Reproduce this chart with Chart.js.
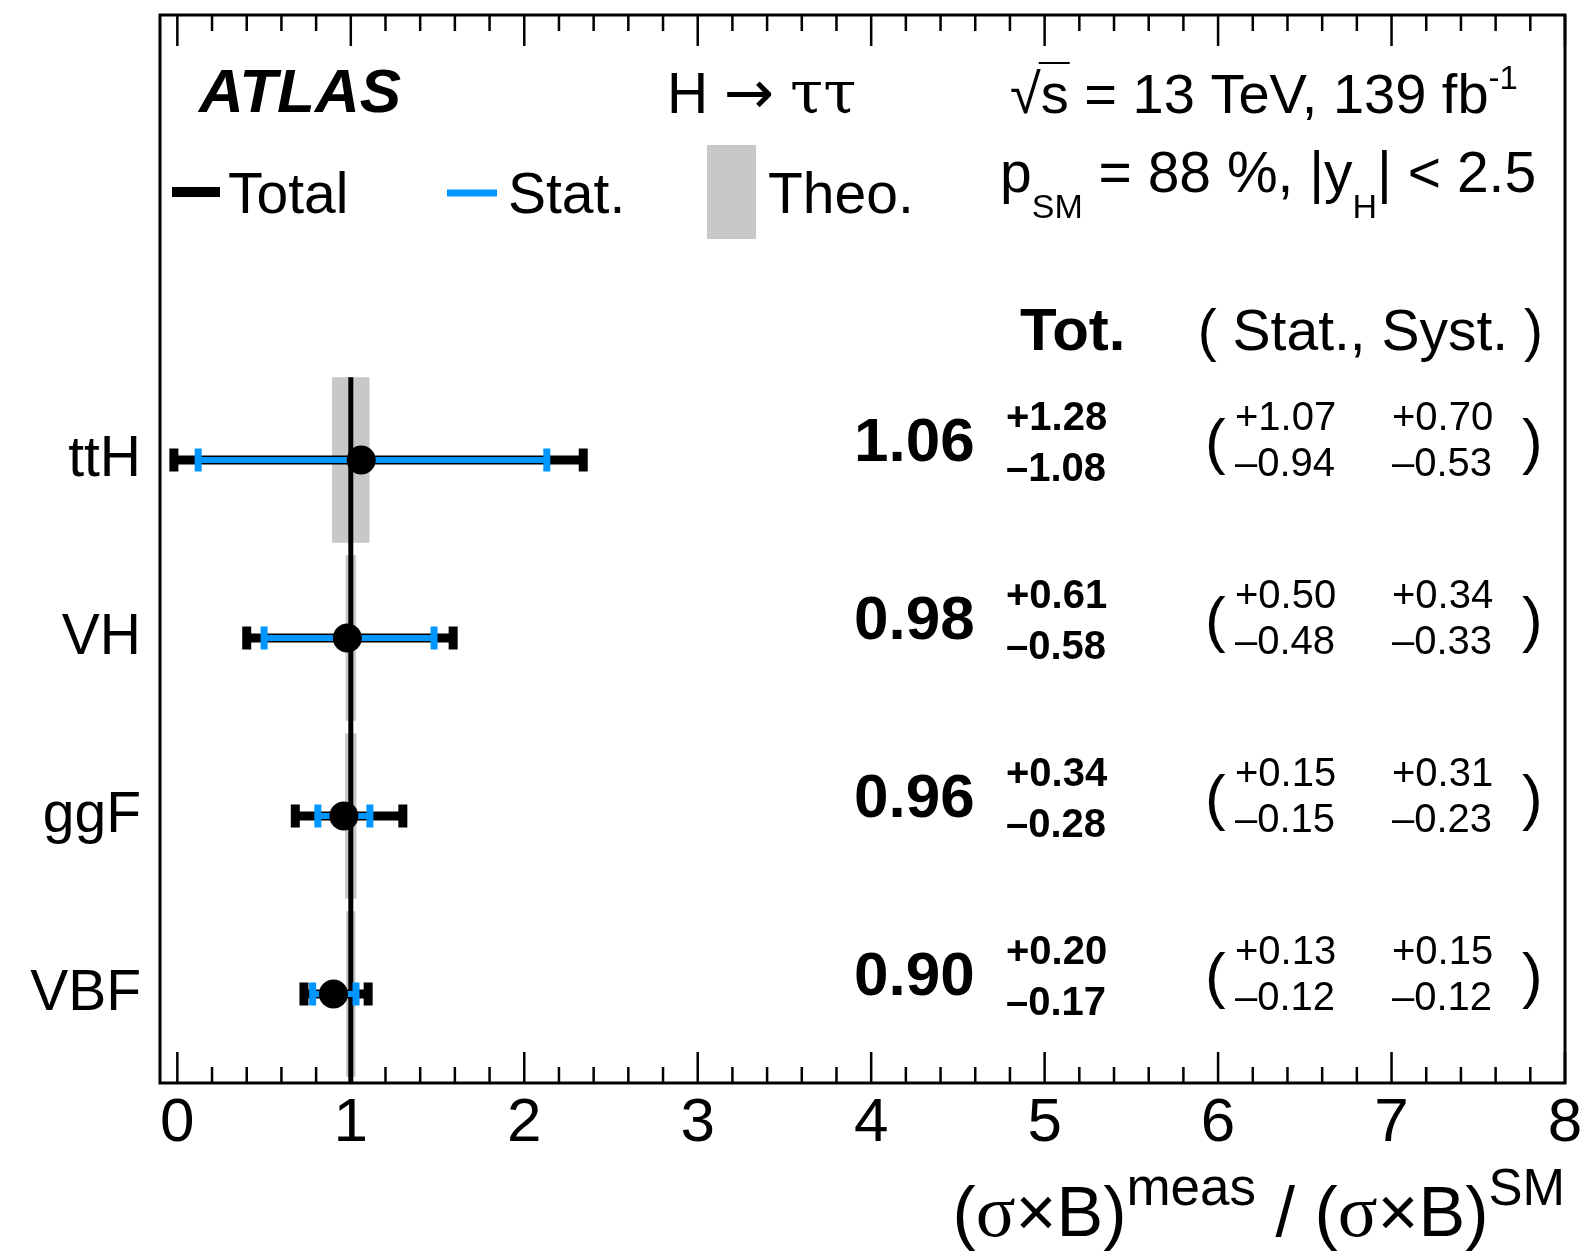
<!DOCTYPE html>
<html>
<head>
<meta charset="utf-8">
<script src="https://cdn.jsdelivr.net/npm/chart.js@4.4.1/dist/chart.umd.min.js"></script>
<style>
  html, body { margin: 0; padding: 0; background: #fff; }
  canvas { display: block; }
</style>
</head>
<body>
<canvas id="c" width="1584" height="1260"></canvas>
<script>
// Production modes and their positions on the vertical axis (top to bottom)
const categories = ['ttH', 'VH', 'ggF', 'VBF'];
const rowPos = [4, 3, 2, 1];

// Signal strength (sigma x B normalised to SM) and uncertainties
const central = [1.06, 0.98, 0.96, 0.90];
const totUp   = [1.28, 0.61, 0.34, 0.20];
const totDn   = [1.08, 0.58, 0.28, 0.17];
const statUp  = [1.07, 0.50, 0.15, 0.13];
const statDn  = [0.94, 0.48, 0.15, 0.12];
const systUp  = [0.70, 0.34, 0.31, 0.15];
const systDn  = [0.53, 0.33, 0.23, 0.12];

// Theory uncertainty on the SM expectation
const smValue = 1;
const theoUp = [0.108, 0.030, 0.033, 0.027];
const theoDn = [0.108, 0.030, 0.033, 0.027];

// Axis ticks
const xTicks = [0, 1, 2, 3, 4, 5, 6, 7, 8];
const xMinorStep = 0.2;

const SANS = '"Liberation Sans", Arial, Helvetica, sans-serif';
const SERIF = '"Liberation Serif", "Times New Roman", serif';
const GREEK = '"DejaVu Serif", "Liberation Serif", serif';
const ARROW = '"DejaVu Sans", "Liberation Sans", sans-serif';
const BLUE = 'rgb(0,150,255)';
const GREY = 'rgb(200,200,200)';
const BAND_HALF = 0.465;

const font = (size, style) => (style ? style + ' ' : '') + size + 'px ' + SANS;
const fmt = v => v.toFixed(2);

// Draw a sequence of text pieces with individual fonts and vertical shifts
function drawRuns(ctx, x, y, parts, align) {
  let w = 0;
  parts.forEach(p => { ctx.font = p.f; w += ctx.measureText(p.t).width + (p.gap || 0); });
  let cx = align === 'right' ? x - w : x;
  const pos = [];
  parts.forEach(p => {
    ctx.font = p.f;
    ctx.fillText(p.t, cx, y + (p.dy || 0));
    const pw = ctx.measureText(p.t).width;
    pos.push([cx, pw]);
    cx += pw + (p.gap || 0);
  });
  return pos;
}

const forestPlot = {
  id: 'forestPlot',
  beforeDatasetsDraw(chart) {
    const { ctx, scales: { x, y } } = chart;
    ctx.save();

    // theory bands around the SM expectation
    ctx.fillStyle = GREY;
    rowPos.forEach((r, i) => {
      const x0 = x.getPixelForValue(smValue - theoDn[i]);
      const x1 = x.getPixelForValue(smValue + theoUp[i]);
      const y0 = y.getPixelForValue(r + BAND_HALF);
      const y1 = y.getPixelForValue(r - BAND_HALF);
      ctx.fillRect(x0, y0, x1 - x0, y1 - y0);
    });

    // SM reference line
    const xs = x.getPixelForValue(smValue);
    ctx.strokeStyle = '#000';
    ctx.lineWidth = 5;
    ctx.beginPath();
    ctx.moveTo(xs, y.getPixelForValue(rowPos[0] + BAND_HALF));
    ctx.lineTo(xs, y.getPixelForValue(y.min));
    ctx.stroke();

    // total (black) and statistical (blue) error bars
    rowPos.forEach((r, i) => {
      const yp = y.getPixelForValue(r);
      const tl = x.getPixelForValue(central[i] - totDn[i]);
      const tr = x.getPixelForValue(central[i] + totUp[i]);
      ctx.fillStyle = '#000';
      ctx.fillRect(tl, yp - 4.5, tr - tl, 9);
      ctx.fillRect(tl - 4.5, yp - 11.5, 9, 23);
      ctx.fillRect(tr - 4.5, yp - 11.5, 9, 23);

      const sl = x.getPixelForValue(central[i] - statDn[i]);
      const sr = x.getPixelForValue(central[i] + statUp[i]);
      ctx.fillStyle = BLUE;
      ctx.fillRect(sl, yp - 3, sr - sl, 6);
      ctx.fillRect(sl - 3.5, yp - 11.5, 7, 23);
      ctx.fillRect(sr - 3.5, yp - 11.5, 7, 23);
    });
    ctx.restore();
  },
  afterDraw(chart) {
    const { ctx, chartArea: a, scales: { x, y } } = chart;
    ctx.save();

    // frame
    ctx.strokeStyle = '#000';
    ctx.lineWidth = 3;
    ctx.strokeRect(a.left, a.top, a.right - a.left, a.bottom - a.top);

    // inward ticks on the bottom and top edges
    ctx.lineWidth = 2.5;
    ctx.beginPath();
    const nMinor = Math.round((xTicks[xTicks.length - 1] - xTicks[0]) / xMinorStep);
    for (let k = 0; k <= nMinor; k++) {
      const v = xTicks[0] + k * xMinorStep;
      const px = x.getPixelForValue(v);
      const major = k % 5 === 0;
      const lb = major ? 31 : 16;
      ctx.moveTo(px, a.bottom);
      ctx.lineTo(px, a.bottom - lb);
      ctx.moveTo(px, a.top);
      ctx.lineTo(px, a.top + lb);
    }
    ctx.stroke();

    ctx.fillStyle = '#000';
    ctx.textAlign = 'left';
    ctx.textBaseline = 'alphabetic';

    // experiment label
    ctx.font = font(62, 'italic bold');
    ctx.fillText('ATLAS', 199, 112);

    // process label
    drawRuns(ctx, 667, 113, [
      { t: 'H ', f: font(57) },
      { t: '\u2192', f: '60px ' + ARROW },
      { t: ' ', f: font(57) },
      { t: '\u03c4\u03c4', f: '60px ' + GREEK }
    ]);

    // energy and luminosity
    const sq = drawRuns(ctx, 1010, 113, [
      { t: '\u221a', f: font(56) },
      { t: 's', f: font(56) },
      { t: ' = 13 TeV, 139 fb', f: font(56) },
      { t: '-1', f: font(33), dy: -24 }
    ]);
    ctx.lineWidth = 2;
    ctx.beginPath();
    ctx.moveTo(sq[0][0] + sq[0][1] - 2, 113 - 50);
    ctx.lineTo(sq[1][0] + sq[1][1] + 1, 113 - 50);
    ctx.stroke();

    // compatibility and rapidity cut
    drawRuns(ctx, 1000, 192, [
      { t: 'p', f: font(57) },
      { t: 'SM', f: font(34), dy: 26 },
      { t: ' = 88 %, |y', f: font(57) },
      { t: 'H', f: font(34), dy: 26 },
      { t: '| < 2.5', f: font(57) }
    ]);

    // legend
    ctx.fillStyle = '#000';
    ctx.fillRect(172, 187, 48, 10);
    ctx.fillStyle = BLUE;
    ctx.fillRect(447, 189.5, 50, 7);
    ctx.fillStyle = GREY;
    ctx.fillRect(707, 145, 49, 94);
    ctx.fillStyle = '#000';
    ctx.font = font(57);
    ctx.fillText('Total', 228, 213);
    ctx.fillText('Stat.', 508, 213);
    ctx.fillText('Theo.', 768, 213);

    // column headers
    ctx.font = font(60, 'bold');
    ctx.fillText('Tot.', 1020, 350);
    ctx.font = font(57);
    ctx.textAlign = 'right';
    ctx.fillText('( Stat., Syst. )', 1543, 350);
    ctx.textAlign = 'left';

    // value columns per production mode
    rowPos.forEach((r, i) => {
      const yp = y.getPixelForValue(r);
      ctx.font = font(62, 'bold');
      ctx.fillText(fmt(central[i]), 854, yp + 1);
      ctx.font = font(40, 'bold');
      ctx.fillText('+' + fmt(totUp[i]), 1006, yp - 30);
      ctx.fillText('\u2013' + fmt(totDn[i]), 1006, yp + 21);
      ctx.font = font(40);
      ctx.fillText('+' + fmt(statUp[i]), 1235, yp - 30);
      ctx.fillText('\u2013' + fmt(statDn[i]), 1235, yp + 16);
      ctx.fillText('+' + fmt(systUp[i]), 1392, yp - 30);
      ctx.fillText('\u2013' + fmt(systDn[i]), 1392, yp + 16);
      ctx.font = font(62);
      ctx.fillText('(', 1205, yp + 2);
      ctx.fillText(')', 1522, yp + 2);
    });

    // x-axis title
    drawRuns(ctx, a.right, 1236, [
      { t: '(', f: font(70) },
      { t: '\u03c3', f: '74px ' + SERIF },
      { t: '\u00d7B)', f: font(70) },
      { t: 'meas', f: font(53), dy: -31 },
      { t: ' / (', f: font(70) },
      { t: '\u03c3', f: '74px ' + SERIF },
      { t: '\u00d7B)', f: font(70) },
      { t: 'SM', f: font(51), dy: -31 }
    ], 'right');

    ctx.restore();
  }
};

new Chart(document.getElementById('c'), {
  type: 'scatter',
  data: {
    datasets: [{
      data: central.map((v, i) => ({ x: v, y: rowPos[i] })),
      pointRadius: 14.5,
      pointHoverRadius: 14.5,
      pointBackgroundColor: '#000',
      pointBorderWidth: 0
    }]
  },
  options: {
    responsive: false,
    animation: false,
    devicePixelRatio: 1,
    events: [],
    layout: { padding: { left: 0, top: 15, right: 19, bottom: 0 } },
    plugins: { legend: { display: false }, tooltip: { enabled: false } },
    scales: {
      x: {
        type: 'linear',
        position: 'bottom',
        min: -0.1,
        max: 8,
        grid: { display: false, drawTicks: false },
        border: { display: false },
        afterBuildTicks: s => { s.ticks = xTicks.map(v => ({ value: v })); },
        afterFit: s => { s.height = 177; s.paddingLeft = 0; s.paddingRight = 0; },
        ticks: {
          font: { family: SANS, size: 62, lineHeight: 1 },
          color: '#000',
          padding: 10,
          autoSkip: false,
          maxRotation: 0,
          callback: v => String(v)
        }
      },
      y: {
        type: 'linear',
        position: 'left',
        min: 0.5,
        max: 6.5,
        grid: { display: false, drawTicks: false },
        border: { display: false },
        afterBuildTicks: s => { s.ticks = rowPos.map(v => ({ value: v })); },
        afterFit: s => { s.width = 160; s.paddingTop = 0; s.paddingBottom = 0; },
        ticks: {
          font: { family: SANS, size: 57 },
          color: '#000',
          padding: 19,
          autoSkip: false,
          callback: v => categories[rowPos.indexOf(v)]
        }
      }
    }
  },
  plugins: [forestPlot]
});
</script>
</body>
</html>
